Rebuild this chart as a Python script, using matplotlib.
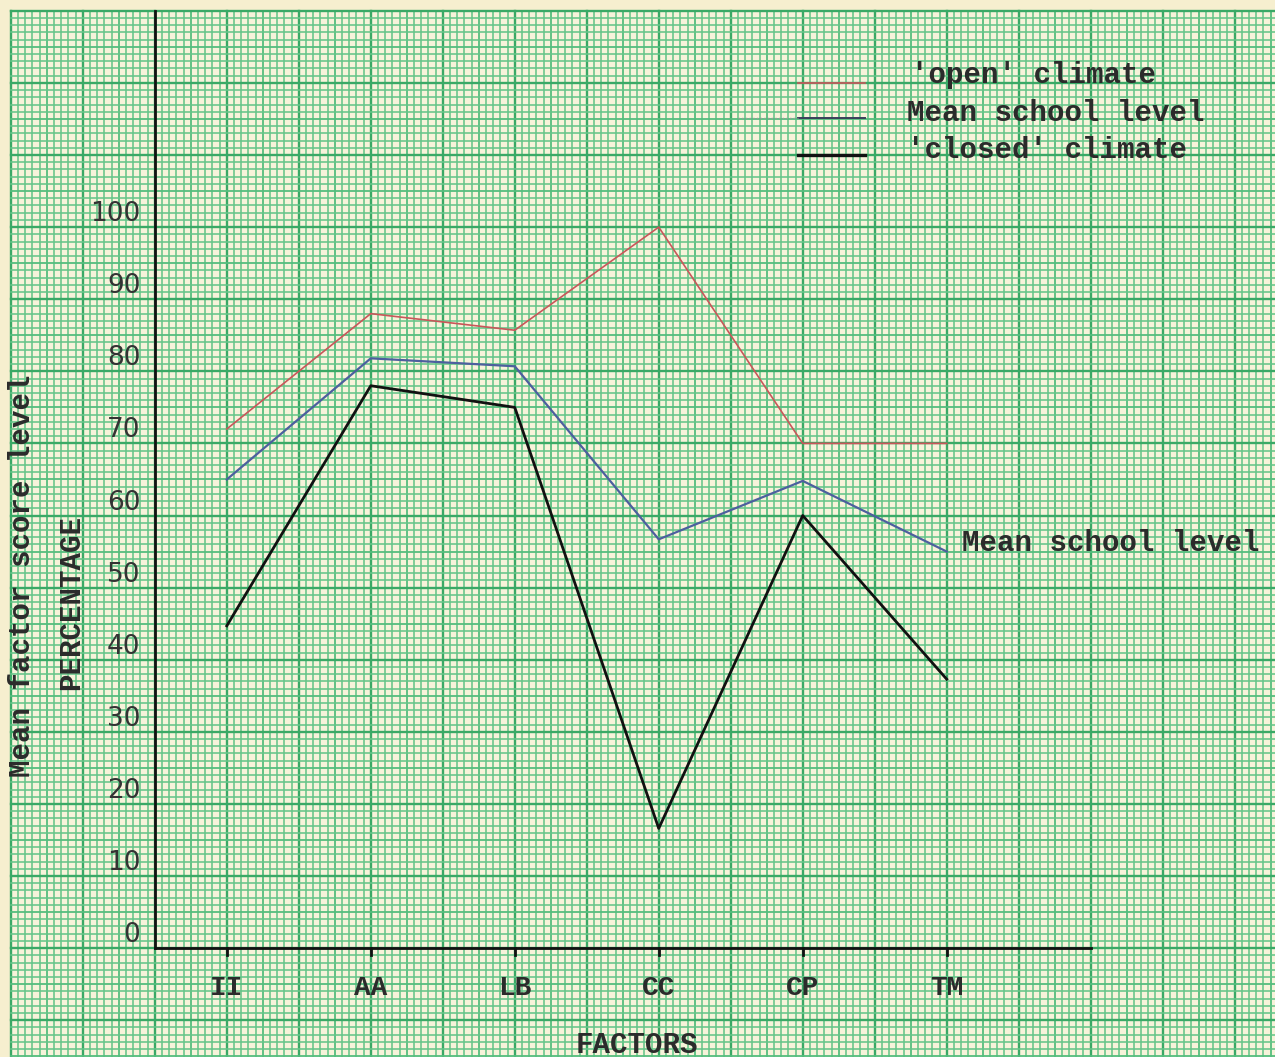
import numpy as np
import matplotlib
matplotlib.use("Agg")
import matplotlib.pyplot as plt

# donnees
factors = ["II", "AA", "LB", "CC", "CP", "TM"]
open_climate = [72, 88, 85.7, 100, 70, 70]
mean_school = [65, 81.8, 80.7, 56.7, 64.8, 55]
closed_climate = [44.7, 78, 75, 16.6, 60, 37.3]
yticks = [0, 10, 20, 30, 40, 50, 60, 70, 80, 90, 100]

# papier millimetre
paper = "#f7f3da"
minor_c = "#66c589"
mid_c = "#55bd7e"
major_c = "#3aa966"

mono = "Liberation Mono"
txt = "#2b2b2b"

fig = plt.figure(figsize=(12.75, 10.57), dpi=100)
fig.patch.set_facecolor("#f6efcf")
ax = fig.add_axes([0, 0, 1, 1])
ax.set_xlim(-21.5, 155.6)
ax.set_ylim(-15.1, 131.5)
ax.axis("off")

# fond du papier
ax.fill_between([-20, 156], -16, 130, color=paper, zorder=0)

# quadrillage
for v in range(-20, 157):
    if v % 10 == 0:
        c, lw = major_c, 1.7
    elif v % 5 == 0:
        c, lw = mid_c, 1.3
    else:
        c, lw = minor_c, 1.15
    ax.plot([v, v], [-16, 130], color=c, lw=lw, zorder=1)
for h in range(-16, 131):
    if h % 10 == 0:
        c, lw = major_c, 1.7
    elif h % 5 == 0:
        c, lw = mid_c, 1.3
    else:
        c, lw = minor_c, 1.15
    ax.plot([-20, 156], [h, h], color=c, lw=lw, zorder=1)

# axes dessines a la main
ax.plot([0, 0], [0, 130], color="#111111", lw=2.0, zorder=3)
ax.plot([0, 130], [0, 0], color="#111111", lw=2.0, zorder=3)

xpos = [10 + 20 * i for i in range(len(factors))]
for x, lab in zip(xpos, factors):
    ax.plot([x, x], [0, -0.9], color="#111111", lw=2.0, zorder=3)
    ax.text(x, -5.5, lab, ha="center", va="center", fontsize=20,
            family=mono, weight="bold", color=txt, zorder=4)

for t in yticks:
    ax.text(-2.0, t, str(t), ha="right", va="bottom", fontsize=19,
            family="DejaVu Sans", color="#333333", zorder=4)

# courbes
ax.plot(xpos, open_climate, color="#c9565a", lw=1.2, zorder=5)
ax.plot(xpos, mean_school, color="#4d5f9e", lw=1.6, zorder=5)
ax.plot(xpos, closed_climate, color="#111111", lw=2.0, zorder=5)

# legende
ax.plot([89.3, 98.6], [120, 120], color="#c9565a", lw=1.2, zorder=5)
ax.plot([89.3, 98.6], [115.1, 115.1], color="#3a3f5a", lw=1.4, zorder=5)
ax.plot([81, 89.3], [115.1, 115.1], color="#9a9a9a", lw=1.0, ls=":", zorder=5)
ax.plot([89.3, 98.6], [110, 110], color="#111111", lw=2.4, zorder=5)
ax.text(105.1, 121.1, "'open' climate", ha="left", va="center", fontsize=21,
        family=mono, weight="bold", color=txt, zorder=6)
ax.text(104.5, 115.8, "Mean school level", ha="left", va="center", fontsize=21,
        family=mono, weight="bold", color=txt, zorder=6)
ax.text(104.5, 110.7, "'closed' climate", ha="left", va="center", fontsize=21,
        family=mono, weight="bold", color=txt, zorder=6)

ax.text(112.1, 56.2, "Mean school level", ha="left", va="center", fontsize=21,
        family=mono, weight="bold", color=txt, zorder=6)

# titres des axes
ax.text(66.9, -13.5, "FACTORS", ha="center", va="center", fontsize=21,
        family=mono, weight="bold", color=txt, zorder=6)
ax.text(-18.5, 51.7, "Mean factor score level", rotation=90, ha="center",
        va="center", fontsize=21, family=mono, weight="bold", color=txt, zorder=6)
ax.text(-11.6, 48, "PERCENTAGE", rotation=90, ha="center", va="center",
        fontsize=21, family=mono, weight="bold", color=txt, zorder=6)

fig.savefig("out.png", dpi=100, facecolor=fig.get_facecolor())
